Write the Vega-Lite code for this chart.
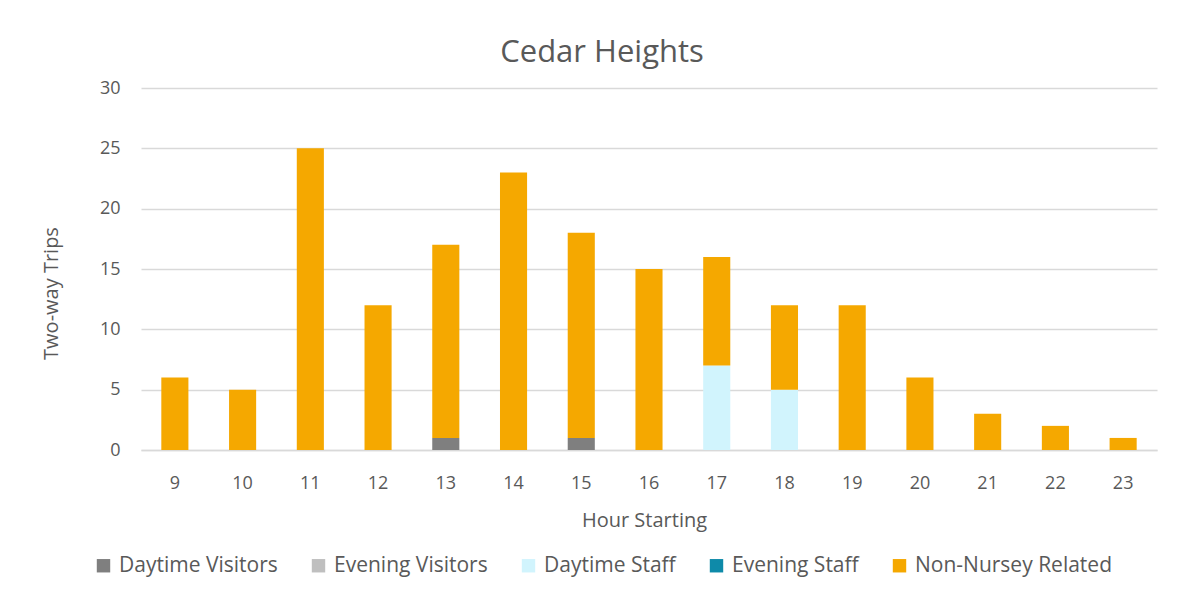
{
  "$schema": "https://vega.github.io/schema/vega-lite/v6.json",
  "width": 1016,
  "height": 362,
  "autosize": {"type": "none"},
  "padding": {"left": 141, "top": 88, "right": 35, "bottom": 151},
  "background": "white",
  "title": {
    "text": "Cedar Heights",
    "fontSize": 31,
    "font": "Open Sans",
    "fontWeight": "normal",
    "color": "#595959",
    "anchor": "middle",
    "dx": -47,
    "offset": 10
  },
  "data": {
    "values": [
      {"hour": "9", "cat": "Non-Nursey Related", "ord": 5, "trips": 6},
      {"hour": "10", "cat": "Non-Nursey Related", "ord": 5, "trips": 5},
      {"hour": "11", "cat": "Non-Nursey Related", "ord": 5, "trips": 25},
      {"hour": "12", "cat": "Non-Nursey Related", "ord": 5, "trips": 12},
      {"hour": "13", "cat": "Daytime Visitors", "ord": 1, "trips": 1},
      {"hour": "13", "cat": "Non-Nursey Related", "ord": 5, "trips": 16},
      {"hour": "14", "cat": "Non-Nursey Related", "ord": 5, "trips": 23},
      {"hour": "15", "cat": "Daytime Visitors", "ord": 1, "trips": 1},
      {"hour": "15", "cat": "Non-Nursey Related", "ord": 5, "trips": 17},
      {"hour": "16", "cat": "Non-Nursey Related", "ord": 5, "trips": 15},
      {"hour": "17", "cat": "Daytime Staff", "ord": 3, "trips": 7},
      {"hour": "17", "cat": "Non-Nursey Related", "ord": 5, "trips": 9},
      {"hour": "18", "cat": "Daytime Staff", "ord": 3, "trips": 5},
      {"hour": "18", "cat": "Non-Nursey Related", "ord": 5, "trips": 7},
      {"hour": "19", "cat": "Non-Nursey Related", "ord": 5, "trips": 12},
      {"hour": "20", "cat": "Non-Nursey Related", "ord": 5, "trips": 6},
      {"hour": "21", "cat": "Non-Nursey Related", "ord": 5, "trips": 3},
      {"hour": "22", "cat": "Non-Nursey Related", "ord": 5, "trips": 2},
      {"hour": "23", "cat": "Non-Nursey Related", "ord": 5, "trips": 1}
    ]
  },
  "mark": {"type": "bar"},
  "encoding": {
    "x": {
      "field": "hour",
      "type": "ordinal",
      "sort": ["9","10","11","12","13","14","15","16","17","18","19","20","21","22","23"],
      "scale": {"paddingInner": 0.6, "paddingOuter": 0.3},
      "axis": {
        "title": "Hour Starting",
        "labelAngle": 0,
        "labelFontSize": 18,
        "labelPadding": 24,
        "labelColor": "#595959",
        "labelFont": "Open Sans",
        "ticks": false,
        "domainColor": "#d9d9d9",
        "domainWidth": 1.5,
        "titleFontSize": 20,
        "titleFont": "Open Sans",
        "titleFontWeight": "normal",
        "titleColor": "#595959",
        "titleX": 503,
        "titleY": 70,
        "titleBaseline": "middle"
      }
    },
    "y": {
      "field": "trips",
      "type": "quantitative",
      "aggregate": "sum",
      "scale": {"domain": [0, 30]},
      "axis": {
        "title": "Two-way Trips",
        "values": [0, 5, 10, 15, 20, 25, 30],
        "labelFontSize": 18,
        "labelPadding": 21,
        "labelColor": "#595959",
        "labelFont": "Open Sans",
        "ticks": false,
        "domain": false,
        "gridColor": "#d9d9d9",
        "gridWidth": 1.5,
        "titleFontSize": 20,
        "titleFont": "Open Sans",
        "titleFontWeight": "normal",
        "titleColor": "#595959",
        "titleX": -90,
        "titleY": 205,
        "titleAngle": -90,
        "titleAlign": "center",
        "titleBaseline": "middle"
      }
    },
    "color": {
      "field": "cat",
      "type": "nominal",
      "scale": {
        "domain": ["Daytime Visitors", "Evening Visitors", "Daytime Staff", "Evening Staff", "Non-Nursey Related"],
        "range": ["#7f7f7f", "#bfbfbf", "#d1f4fd", "#0e8aa9", "#f5a800"]
      },
      "legend": {
        "title": null,
        "orient": "none",
        "direction": "horizontal",
        "legendX": -48,
        "legendY": 467,
        "symbolType": "square",
        "symbolSize": 180,
        "symbolStrokeWidth": 0,
        "symbolOpacity": 1,
        "labelFontSize": 21,
        "labelFont": "Open Sans",
        "labelColor": "#595959",
        "labelOffset": 5,
        "columnPadding": 30,
        "labelLimit": 400
      }
    },
    "order": {"field": "ord", "type": "quantitative", "sort": "ascending"}
  },
  "config": {
    "view": {"stroke": null},
    "font": "Open Sans"
  }
}
